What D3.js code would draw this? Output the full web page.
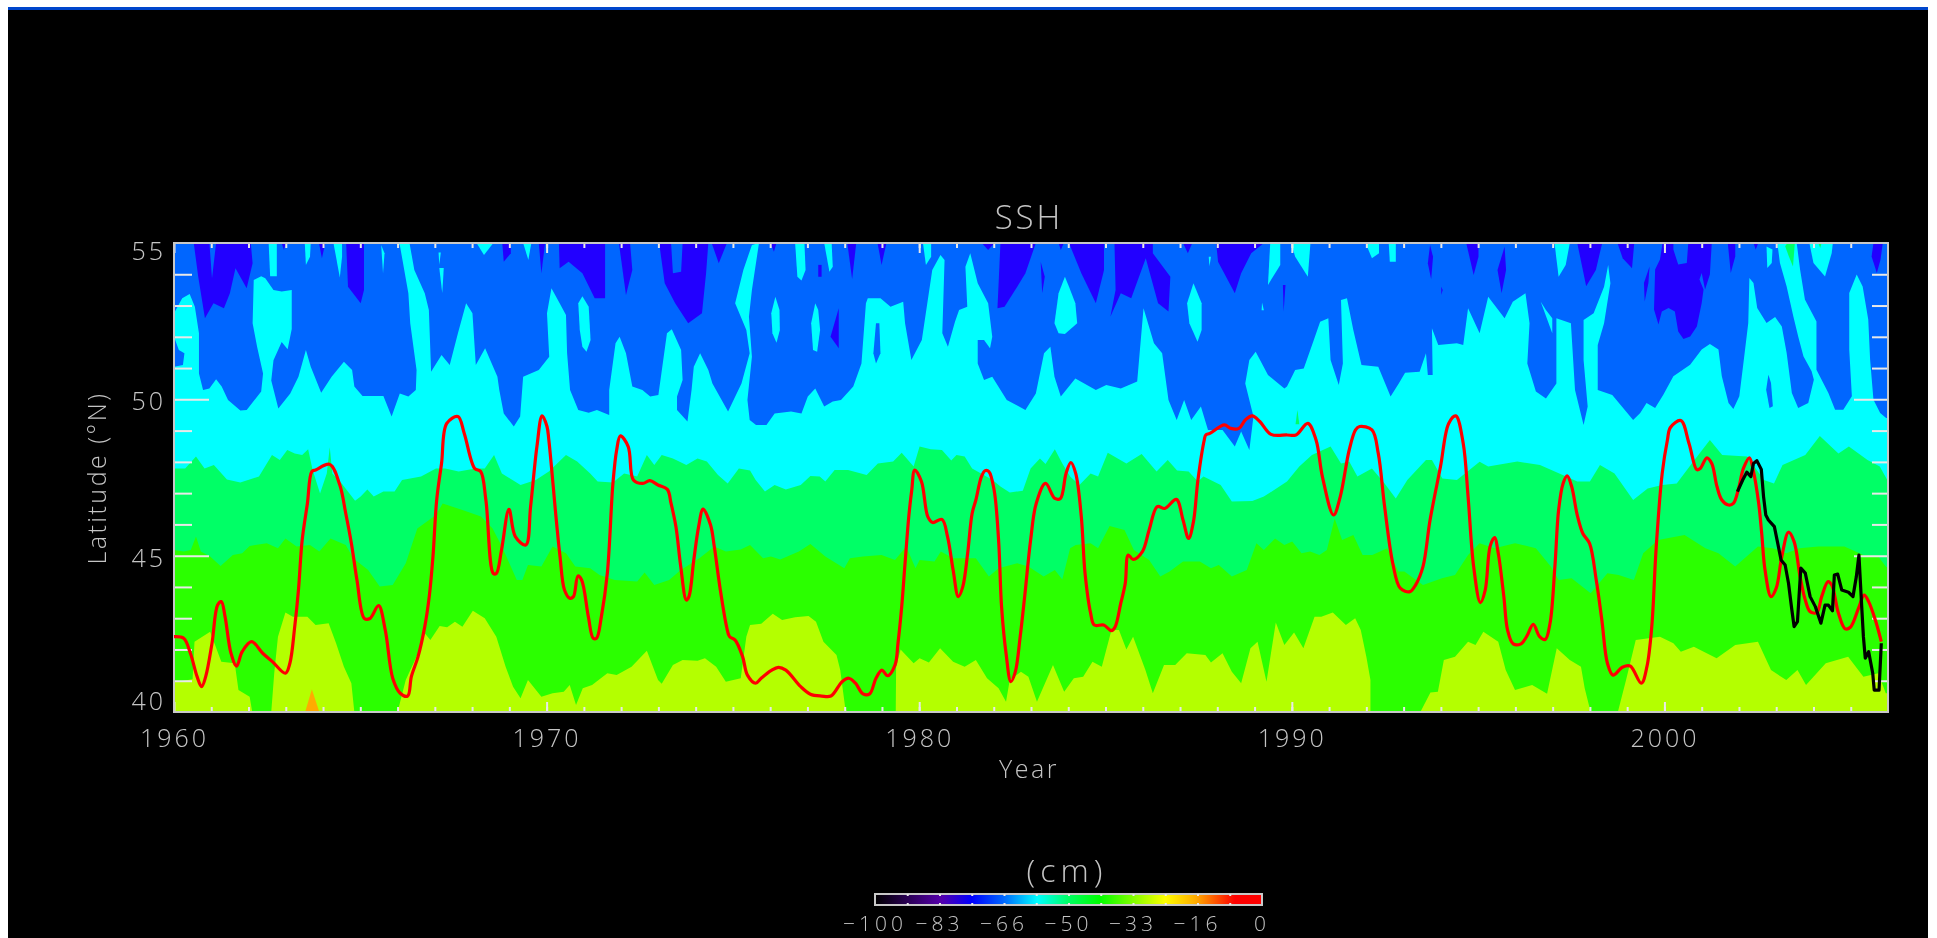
<!DOCTYPE html>
<html>

<head>
    <meta charset="utf-8">
    <style>
        html, body {
            margin: 0;
            background: white;
            overflow: hidden;
        }

        svg {
            display: block;
            filter: blur(0.55px);
        }

        text {
            font-family: 'Open Sans', 'DejaVu Sans', sans-serif;
            font-weight: 300;
            fill: #c4c4c4;
        }

        .tick line {
            stroke: #e8e8e8;
            stroke-width: 2px;
        }

        .domain {
            display: none;
        }

        .axis text {
            font-size: 25px;
            letter-spacing: 3px;
        }
    </style>
</head>

<body>
    <svg width="1937" height="938"></svg>

    <script src="https://d3js.org/d3.v7.min.js"></script>
    <script>

        // tick labels
        let yearLabels = [1960, 1970, 1980, 1990, 2000]
        let latLabels = [40, 45, 50, 55]
        let yearTicks = d3.range(1961, 2006)
        let latTicks = d3.range(41, 55)
        let barLabels = ["\u2212100", "\u221283", "\u221266", "\u221250", "\u221233", "\u221216", "0"]
        let barLabelValues = [-100, -83.33, -66.67, -50, -33.33, -16.67, 0]

        // colorbar ramp, cm -> colour
        let barValues = [-100, -83, -75, -67, -58, -50, -42, -25, -17, -7, 0]
        let barColors = ["#000000", "#5500aa", "#0000ff", "#0064ff", "#00ffff", "#00ff64", "#00ff00", "#ffff00", "#ffaa00", "#ff0000", "#ff0000"]

        // contour band edges, [year, latitude]
        let yellowEdge = [[1960, 40.95], [1960.5, 41.05], [1960.55, 42.25], [1960.97, 42.57], [1961.12, 42.09], [1961.27, 41.61], [1961.63, 41.56], [1961.73, 40.7], [1962.03, 40.49], [1962.1, 40], [1962.61, 40], [1962.69, 41.24], [1962.79, 42.41], [1962.99, 43.18], [1963.19, 43.05], [1963.58, 43.05], [1963.8, 42.78], [1964.15, 42.84], [1964.35, 42.2], [1964.56, 41.45], [1964.76, 40.92], [1964.84, 40], [1966, 40], [1966.22, 41.02], [1966.63, 42.09], [1966.73, 42.52], [1966.88, 42.3], [1967.13, 42.75], [1967.33, 42.71], [1967.54, 42.89], [1967.74, 42.73], [1968.02, 43.24], [1968.34, 43], [1968.65, 42.41], [1968.9, 41.45], [1969.1, 40.81], [1969.3, 40.44], [1969.5, 41.02], [1969.86, 40.49], [1970.16, 40.6], [1970.46, 40.65], [1970.62, 40.86], [1970.79, 40.22], [1970.97, 40.76], [1971.22, 40.86], [1971.63, 41.24], [1971.88, 41.18], [1972.28, 41.45], [1972.69, 41.96], [1972.99, 41.02], [1973.09, 40.9], [1973.39, 41.5], [1973.65, 41.66], [1974.05, 41.64], [1974.25, 41.72], [1974.55, 41.45], [1974.81, 40.97], [1975.21, 41.08], [1975.36, 42.41], [1975.46, 42.78], [1975.76, 42.82], [1976.07, 43.14], [1976.32, 42.94], [1976.67, 43.03], [1977.03, 43.07], [1977.23, 42.89], [1977.43, 42.25], [1977.78, 41.82], [1977.88, 41.34], [1978.01, 40.17], [1978.06, 40], [1979.37, 40], [1979.38, 41.45], [1979.5, 42], [1979.85, 41.56], [1980.01, 41.72], [1980.26, 41.58], [1980.56, 42.04], [1980.91, 41.61], [1981.22, 41.45], [1981.52, 41.66], [1981.82, 41.08], [1982.13, 40.76], [1982.33, 40.33], [1982.43, 41.02], [1982.73, 41.29], [1982.93, 41.13], [1983.16, 40.33], [1983.59, 41.5], [1983.89, 40.65], [1984.15, 41.08], [1984.4, 41.13], [1984.65, 41.61], [1984.9, 41.45], [1985.16, 42.62], [1985.36, 42.62], [1985.56, 42], [1985.74, 42.41], [1986.07, 41.34], [1986.27, 40.6], [1986.57, 41.5], [1986.87, 41.5], [1987.18, 41.88], [1987.68, 41.82], [1987.83, 41.58], [1988.14, 41.88], [1988.39, 41.29], [1988.64, 40.92], [1988.89, 42.04], [1989.08, 42.25], [1989.32, 40.97], [1989.57, 42.86], [1989.8, 42.14], [1990.06, 42.54], [1990.31, 42.04], [1990.61, 43.05], [1990.79, 43.05], [1991.1, 43.18], [1991.45, 42.78], [1991.7, 43], [1991.85, 42.62], [1992, 41.77], [1992.11, 41.02], [1992.11, 40], [1993.45, 40], [1993.72, 40.62], [1993.92, 40.65], [1994.08, 41.66], [1994.38, 41.77], [1994.73, 42.25], [1994.93, 42.14], [1995.14, 42.57], [1995.54, 42.25], [1995.74, 41.34], [1995.99, 40.7], [1996.45, 40.86], [1996.85, 40.58], [1997.11, 42.04], [1997.46, 41.66], [1997.76, 41.45], [1997.86, 40.76], [1998.02, 40], [1998.75, 40], [1998.97, 41.02], [1999.23, 42.3], [1999.88, 42.41], [2000.24, 42.2], [2000.44, 41.93], [2000.79, 42.09], [2001.4, 41.72], [2001.9, 42.14], [2002.51, 42.25], [2002.86, 41.34], [2003.27, 41.02], [2003.57, 41.34], [2003.8, 40.86], [2004.33, 41.56], [2004.93, 41.77], [2005.34, 41.13], [2005.74, 41.24], [2005.94, 40.6], [2006, 40.6]]

        let greenEdge = [[1960, 45.18], [1960.26, 45.13], [1960.45, 45.18], [1960.59, 45.61], [1960.72, 45.13], [1960.97, 44.97], [1961.25, 44.67], [1961.58, 45.02], [1961.83, 45.08], [1962.03, 45.31], [1962.49, 45.4], [1962.79, 45.24], [1962.99, 45.55], [1963.29, 45.29], [1963.65, 45.34], [1963.9, 45.13], [1964.2, 45.55], [1964.61, 45.34], [1964.81, 44.92], [1965.21, 44.54], [1965.52, 44.01], [1965.87, 44.06], [1966.22, 44.76], [1966.53, 45.87], [1967.03, 46.3], [1967.21, 46.67], [1967.74, 46.46], [1968.24, 46.25], [1968.55, 45.87], [1968.8, 45.29], [1969, 44.76], [1969.2, 44.22], [1969.35, 44.22], [1969.5, 44.7], [1969.86, 44.65], [1970.16, 45.29], [1970.52, 45.08], [1970.77, 44.65], [1971.17, 44.6], [1971.42, 44.38], [1971.83, 44.22], [1972.43, 44.17], [1972.63, 44.46], [1972.89, 44.06], [1973.29, 44.22], [1973.6, 44.54], [1974.1, 44.92], [1974.5, 45.29], [1974.81, 45.13], [1975.21, 45.2], [1975.46, 45.34], [1975.81, 44.92], [1976.02, 44.97], [1976.27, 44.88], [1976.77, 45.13], [1977.08, 45.37], [1977.48, 44.97], [1977.99, 44.6], [1978.14, 44.92], [1978.49, 44.97], [1978.99, 45.02], [1979.35, 44.86], [1979.65, 45.29], [1979.9, 44.6], [1980.01, 44.86], [1980.41, 44.81], [1980.58, 45.13], [1980.91, 44.92], [1981.52, 44.92], [1981.87, 44.33], [1982.13, 44.6], [1982.63, 44.76], [1982.93, 44.65], [1983.34, 44.33], [1983.64, 44.54], [1983.84, 44.24], [1984.05, 45.24], [1984.2, 45.34], [1984.6, 45.4], [1984.8, 45.24], [1985.11, 45.95], [1985.51, 45.82], [1985.76, 45.18], [1986.17, 44.86], [1986.47, 44.33], [1986.72, 44.49], [1987.08, 44.81], [1987.53, 44.81], [1987.83, 44.6], [1988.04, 44.7], [1988.39, 44.33], [1988.79, 44.54], [1989.05, 45.4], [1989.25, 45.18], [1989.55, 45.55], [1989.8, 45.34], [1990.01, 45.45], [1990.26, 45.08], [1990.49, 45.13], [1990.74, 45.02], [1990.94, 45.18], [1991.15, 46.19], [1991.35, 45.5], [1991.65, 45.66], [1991.9, 45.02], [1992.16, 45.02], [1992.56, 45.24], [1992.86, 44.49], [1993.02, 44.49], [1993.52, 44.06], [1994.03, 44.28], [1994.38, 44.38], [1994.73, 45.02], [1995.04, 45.4], [1995.44, 45.24], [1995.99, 45.4], [1996.55, 45.24], [1996.95, 44.65], [1997.16, 44.22], [1997.51, 44.28], [1998.02, 43.8], [1998.47, 44.44], [1998.77, 44.38], [1999.18, 44.22], [1999.43, 45.08], [1999.83, 45.5], [2000.54, 45.66], [2001.1, 45.24], [2001.45, 45.08], [2001.9, 44.65], [2002.51, 45.29], [2002.91, 45.24], [2003.27, 45.08], [2003.62, 45.24], [2004.13, 45.29], [2004.83, 45.29], [2005.34, 45.02], [2005.74, 44.97], [2005.94, 44.65], [2006, 44.6]]

        let springEdge = [[1960, 47.79], [1960.3, 47.79], [1960.59, 48.17], [1960.82, 47.79], [1961.07, 47.9], [1961.42, 47.44], [1961.78, 47.34], [1962.28, 47.53], [1962.63, 48.22], [1962.84, 48.06], [1963.04, 48.38], [1963.24, 48.27], [1963.44, 48.22], [1963.6, 48.4], [1963.72, 47.74], [1963.92, 46.99], [1964.1, 47.63], [1964.18, 48.47], [1964.25, 47.63], [1964.5, 47.31], [1964.86, 46.76], [1965.01, 46.89], [1965.19, 47.12], [1965.36, 46.89], [1965.62, 47.05], [1965.92, 47.05], [1966.12, 47.42], [1966.63, 47.53], [1967.03, 47.79], [1967.28, 47.79], [1967.64, 47.69], [1968.09, 47.79], [1968.34, 47.79], [1968.59, 48.22], [1968.8, 47.63], [1969.3, 47.26], [1969.71, 47.42], [1970.06, 47.69], [1970.52, 48.22], [1970.82, 48.01], [1971.17, 47.63], [1971.37, 47.37], [1971.78, 47.34], [1972.08, 47.63], [1972.43, 47.53], [1972.69, 48.22], [1972.89, 47.9], [1973.09, 48.22], [1973.39, 48.11], [1973.75, 47.9], [1974.05, 48.11], [1974.3, 48.01], [1974.6, 47.58], [1974.86, 47.31], [1975.16, 47.79], [1975.46, 47.72], [1975.61, 47.42], [1975.86, 47.05], [1976.12, 47.26], [1976.42, 47.12], [1976.82, 47.26], [1977.08, 47.55], [1977.33, 47.53], [1977.48, 47.37], [1977.73, 47.74], [1978.09, 47.74], [1978.59, 47.58], [1978.89, 47.95], [1979.3, 48.01], [1979.53, 48.29], [1979.85, 47.85], [1980.01, 48.49], [1980.31, 48.4], [1980.61, 48.38], [1980.86, 48.04], [1981, 48.22], [1981.22, 48.17], [1981.42, 47.79], [1981.97, 47.42], [1982.18, 47.21], [1982.43, 47.02], [1982.78, 47.08], [1982.99, 47.79], [1983.24, 48.11], [1983.39, 47.93], [1983.64, 48.4], [1983.84, 47.95], [1984.05, 47.53], [1984.3, 47.26], [1984.6, 47.63], [1984.8, 47.53], [1985.06, 48.29], [1985.56, 47.95], [1985.97, 48.25], [1986.37, 47.69], [1986.67, 48.06], [1986.92, 47.72], [1987.23, 47.69], [1987.48, 47.37], [1987.63, 47.53], [1988.09, 47.26], [1988.39, 46.73], [1988.94, 46.75], [1989.25, 46.89], [1989.87, 47.37], [1990.2, 47.85], [1990.54, 48.22], [1991.04, 48.49], [1991.32, 47.95], [1991.54, 48.01], [1991.76, 47.53], [1992.15, 47.79], [1992.49, 47.31], [1992.79, 46.83], [1993.1, 47.42], [1993.6, 48.06], [1993.76, 48.06], [1994.04, 47.47], [1994.43, 47.42], [1995.04, 48], [1995.27, 47.85], [1996.05, 48.01], [1996.66, 47.9], [1997.27, 47.58], [1997.66, 47.37], [1998, 47.37], [1998.27, 47.9], [1998.66, 47.63], [1999.16, 46.78], [1999.55, 47.15], [1999.94, 47.26], [2000.33, 47.31], [2000.77, 48], [2001.22, 48.7], [2001.55, 48.22], [2002.22, 48.17], [2002.67, 47.42], [2002.94, 47.31], [2003.17, 47.9], [2003.78, 48.22], [2004.17, 48.83], [2004.67, 48.27], [2004.95, 48.49], [2005.45, 48.06], [2005.78, 47.85], [2005.98, 47.42], [2006, 47.3]]

        let blueEdge = [[1960, 52.75], [1960.22, 53.23], [1960.42, 53.37], [1960.56, 52.96], [1960.67, 52.11], [1960.67, 50.83], [1960.78, 50.3], [1960.95, 50.35], [1961.13, 50.64], [1961.28, 50.41], [1961.45, 49.98], [1961.78, 49.64], [1961.95, 49.66], [1962.34, 50.25], [1962.39, 50.83], [1962.23, 51.68], [1962.11, 52.43], [1962.14, 53.82], [1962.34, 53.94], [1962.45, 53.87], [1962.67, 53.5], [1962.89, 53.45], [1963.16, 53.5], [1963.16, 52.25], [1963.05, 51.6], [1962.89, 51.83], [1962.67, 51.25], [1962.61, 50.6], [1962.8, 49.71], [1963.12, 50.19], [1963.34, 50.72], [1963.54, 51.58], [1963.67, 51.04], [1963.95, 50.21], [1964.23, 50.72], [1964.56, 51.2], [1964.78, 50.94], [1964.84, 50.41], [1965.06, 50.11], [1965.62, 50.11], [1965.84, 49.45], [1966.06, 50.19], [1966.29, 50.09], [1966.49, 50.3], [1966.51, 50.94], [1966.34, 52.43], [1966.29, 53.39], [1966.06, 54.94], [1966, 55], [1966.32, 55], [1966.45, 54.14], [1966.73, 53.39], [1966.84, 52.86], [1966.9, 50.88], [1967.18, 51.42], [1967.4, 51.1], [1967.62, 52.11], [1967.84, 53.07], [1968.01, 52.75], [1968.1, 51.1], [1968.35, 51.63], [1968.68, 50.72], [1968.73, 50.3], [1968.85, 49.55], [1969.12, 49.13], [1969.29, 49.45], [1969.37, 50.72], [1969.79, 50.94], [1970.07, 51.36], [1970.01, 52.75], [1970.13, 53.55], [1970.35, 53.07], [1970.52, 52.7], [1970.55, 51.47], [1970.63, 50.3], [1970.85, 49.66], [1971.13, 49.57], [1971.35, 49.66], [1971.68, 49.5], [1971.68, 50.3], [1971.85, 51.79], [1971.96, 52], [1972.13, 51.47], [1972.3, 50.41], [1972.57, 50.3], [1972.78, 50.09], [1973, 50.14], [1973.23, 52.11], [1973.36, 52.24], [1973.61, 51.58], [1973.65, 50.62], [1973.5, 50.09], [1973.5, 49.66], [1973.78, 49.29], [1973.89, 50.3], [1973.95, 51.04], [1974.12, 51.47], [1974.34, 50.94], [1974.45, 50.51], [1974.87, 49.61], [1975.23, 50.51], [1975.45, 51.47], [1975.36, 52.22], [1975.06, 53.07], [1975.28, 54.14], [1975.51, 54.94], [1975.7, 55], [1975.51, 53.5], [1975.43, 52.64], [1975.51, 51.36], [1975.39, 49.98], [1975.45, 49.34], [1975.62, 49.18], [1975.9, 49.18], [1976.12, 49.55], [1976.56, 49.61], [1976.84, 49.55], [1977.01, 50.09], [1977.21, 50.35], [1977.45, 49.77], [1977.68, 49.93], [1977.9, 49.98], [1978.23, 50.41], [1978.45, 51.15], [1978.57, 53.07], [1978.62, 53.23], [1978.96, 53.23], [1979.23, 52.96], [1979.57, 53.12], [1979.62, 52.43], [1979.79, 51.26], [1980.07, 51.9], [1980.35, 54.14], [1980.57, 54.62], [1980.68, 54.46], [1980.62, 52.11], [1980.77, 51.68], [1980.96, 52.48], [1981.07, 52.86], [1981.29, 52.96], [1981.24, 54.24], [1981.37, 54.67], [1981.57, 53.71], [1981.85, 53.07], [1981.96, 52], [1981.9, 51.63], [1981.74, 51.9], [1981.57, 51.9], [1981.57, 51.15], [1981.74, 50.62], [1981.96, 50.72], [1982.35, 49.98], [1982.85, 49.66], [1983.13, 50.19], [1983.35, 51.47], [1983.52, 51.68], [1983.63, 50.72], [1983.8, 50.09], [1984.19, 50.67], [1984.74, 50.3], [1985.02, 50.46], [1985.41, 50.35], [1985.85, 50.57], [1986.02, 52.91], [1986.3, 51.79], [1986.52, 51.47], [1986.69, 49.98], [1986.91, 49.34], [1987.11, 49.98], [1987.3, 49.34], [1987.56, 49.77], [1987.75, 49.02], [1988.14, 49.02], [1988.47, 48.49], [1988.64, 48.97], [1988.86, 48.38], [1988.97, 49.45], [1988.75, 50.51], [1988.86, 51.26], [1989.03, 51.52], [1989.36, 50.78], [1989.8, 50.35], [1989.87, 50.41], [1990.09, 50.94], [1990.32, 50.99], [1990.59, 51.9], [1990.76, 52.48], [1990.98, 52.59], [1991.04, 51.26], [1991.26, 50.46], [1991.37, 51.15], [1991.32, 53.18], [1991.48, 53.23], [1991.65, 52.22], [1991.87, 51.1], [1992.32, 51.04], [1992.65, 50.09], [1992.87, 50.51], [1993.04, 50.85], [1993.43, 50.88], [1993.6, 51.47], [1993.65, 50.78], [1993.78, 50.78], [1993.76, 52.27], [1993.93, 51.74], [1994.43, 51.79], [1994.6, 51.74], [1994.73, 52.91], [1995.04, 52.11], [1995.27, 53.28], [1995.71, 52.59], [1995.93, 53.12], [1996.27, 53.39], [1996.38, 52.43], [1996.32, 51.15], [1996.55, 50.25], [1996.82, 50.03], [1997.1, 50.51], [1997.1, 52.59], [1997.49, 52.43], [1997.6, 50.3], [1997.83, 49.18], [1997.94, 49.77], [1997.83, 51.26], [1997.83, 52.54], [1998.1, 52.75], [1998.38, 53.6], [1998.49, 54.3], [1998.55, 53.71], [1998.38, 52.43], [1998.21, 51.74], [1998.21, 50.3], [1998.6, 50.14], [1999.16, 49.34], [1999.35, 49.56], [1999.52, 49.88], [1999.75, 49.72], [1999.97, 50.15], [2000.24, 50.74], [2000.69, 51.11], [2001, 51.59], [2001.22, 51.77], [2001.45, 51.59], [2001.54, 50.74], [2001.72, 49.88], [2001.85, 49.69], [2002.01, 50.1], [2002.12, 51.16], [2002.25, 52.44], [2002.28, 53.88], [2002.39, 53.72], [2002.49, 52.92], [2002.74, 52.44], [2002.97, 52.63], [2003.15, 52.33], [2003.28, 51.48], [2003.42, 50.2], [2003.59, 49.72], [2003.86, 49.88], [2004.01, 50.63], [2003.95, 50.9], [2003.73, 51.38], [2003.59, 52.01], [2003.46, 52.65], [2003.28, 53.61], [2003.1, 54.36], [2003.03, 55], [2003.55, 55], [2003.64, 54.15], [2003.77, 53.19], [2004.08, 52.49], [2004.08, 50.95], [2004.4, 50.2], [2004.58, 49.67], [2004.8, 49.67], [2005.03, 50.1], [2004.96, 51.59], [2004.96, 53.4], [2005.16, 53.99], [2005.32, 53.61], [2005.47, 52.55], [2005.52, 51.27], [2005.61, 49.99], [2005.79, 49.56], [2005.95, 49.4], [2006, 49.4]]

        // patches on top of the bands
        let cyanPatches = [
            [[1962.54, 55], [1962.58, 53.94], [1962.76, 53.94], [1962.76, 55]],
            [[1963.51, 55], [1963.54, 54.3], [1963.65, 54.56], [1963.67, 55]],
            [[1964.28, 55], [1964.45, 53.9], [1964.51, 54.56], [1964.51, 55]],
            [[1965.56, 54.94], [1965.61, 54.03], [1965.65, 54.67]],
            [[1967.12, 54.2], [1967.2, 53.39], [1967.24, 54.2]],
            [[1967.1, 54.7], [1967.12, 54.3], [1967.16, 54.7]],
            [[1968.12, 55], [1968.32, 54.62], [1968.57, 55]],
            [[1969.37, 55], [1969.51, 54.46], [1969.59, 55]],
            [[1970.85, 53.07], [1970.96, 53.3], [1971.13, 52.96], [1971.18, 51.9], [1971.07, 51.52], [1970.96, 51.68], [1970.89, 52.22]],
            [[1976.67, 55], [1976.73, 53.92], [1976.84, 53.8], [1976.95, 54.14], [1976.92, 55]],
            [[1977.45, 55], [1977.59, 54.08], [1977.68, 54.24], [1977.65, 55]],
            [[1980.1, 55], [1980.18, 54.3], [1980.32, 54.56], [1980.32, 55]],
            [[1976.14, 53.28], [1976.03, 52.75], [1976.06, 52.11], [1976.17, 51.81], [1976.26, 52.22], [1976.25, 52.86]],
            [[1977.21, 53.07], [1977.1, 52.43], [1977.15, 51.58], [1977.26, 51.52], [1977.34, 52.22], [1977.29, 52.86]],
            [[1983.91, 53.92], [1983.74, 53.39], [1983.63, 52.43], [1983.74, 52.11], [1983.91, 52.09], [1984.24, 52.43], [1984.19, 53.07], [1984.02, 53.6]],
            [[1987.36, 53.71], [1987.19, 53.07], [1987.25, 52.43], [1987.47, 51.84], [1987.58, 52.22], [1987.58, 53.07]],
            [[1987.77, 54.56], [1987.79, 54.26], [1987.83, 54.56]],
            [[1989.2, 53.1], [1989.19, 52.85], [1989.25, 52.85]],
            [[1989.42, 55], [1989.36, 53.66], [1989.69, 54.3], [1989.69, 55]],
            [[1989.98, 55], [1990.09, 54.56], [1990.43, 53.92], [1990.5, 55]],
            [[1991.98, 55], [1992.15, 54.51], [1992.34, 54.67], [1992.34, 55]],
            [[1992.6, 55], [1992.63, 54.4], [1992.79, 54.4], [1992.79, 55]],
            [[1997.05, 55], [1997.16, 53.92], [1997.35, 54.3], [1997.46, 55]],
            [[1996.68, 53.12], [1996.99, 52.11], [1996.99, 52.59], [1996.82, 52.86]],
            [[2002.74, 54.89], [2002.76, 54.2], [2002.88, 54.36], [2002.9, 54.79]],
            [[2003.89, 55], [2004, 54.36], [2004.31, 53.93], [2004.49, 54.68], [2004.52, 55]]
        ]

        let bluePatches = [
            [[1960, 52], [1960.13, 51.58], [1960.28, 51.47], [1960.24, 51.1], [1960, 51.04]],
            [[1978.84, 52.43], [1978.77, 51.47], [1978.84, 51.15], [1978.96, 51.47], [1978.93, 52.43]],
            [[2002.79, 50.79], [2002.73, 50.31], [2002.82, 49.72], [2002.91, 49.78], [2002.86, 50.52]]
        ]

        let indigoPatches = [
            [[1960.53, 55], [1960.65, 53.92], [1960.83, 52.59], [1961.06, 53.07], [1961.34, 52.91], [1961.5, 53.39], [1961.65, 54.19], [1961.95, 53.55], [1962.11, 54.35], [1962.06, 55], [1961.13, 55], [1961.02, 53.87], [1960.95, 55]],
            [[1962.89, 55], [1962.95, 54.78], [1963, 55]],
            [[1963.89, 55], [1963.97, 54.51], [1964.06, 55]],
            [[1964.62, 55], [1964.67, 53.6], [1965.01, 53.07], [1965.1, 53.5], [1965.1, 55]],
            [[1968.81, 55], [1968.85, 54.4], [1969.04, 54.67], [1969.04, 55]],
            [[1969.79, 55], [1969.86, 54.03], [1969.96, 55]],
            [[1970.33, 55], [1970.35, 54.19], [1970.59, 54.4], [1970.96, 54.03], [1971.29, 53.23], [1971.57, 53.23], [1971.57, 55]],
            [[1971.94, 55], [1972.13, 53.34], [1972.3, 54.14], [1972.24, 55]],
            [[1973.02, 55], [1973.17, 53.71], [1973.45, 53.07], [1973.8, 52.43], [1974.17, 52.75], [1974.28, 54.03], [1974.34, 55], [1973.65, 55], [1973.61, 54.08], [1973.39, 54.03], [1973.34, 55]],
            [[1974.43, 55], [1974.62, 54.35], [1974.84, 55]],
            [[1976.01, 55], [1976.1, 54.72], [1976.17, 55]],
            [[1978.07, 55], [1978.2, 53.84], [1978.31, 55]],
            [[1978.88, 55], [1978.99, 54.3], [1979.12, 55]],
            [[1977.29, 54.3], [1977.29, 53.92], [1977.38, 53.92], [1977.38, 54.3]],
            [[1977.84, 52.91], [1977.62, 52], [1977.84, 51.63]],
            [[1981.68, 55], [1981.85, 54.78], [1982.02, 55]],
            [[1982.18, 55], [1982.1, 52.91], [1982.29, 52.96], [1982.63, 53.6], [1982.85, 54.03], [1983.13, 55]],
            [[1983.26, 54.4], [1983.3, 53.39], [1983.37, 53.92]],
            [[1983.74, 55], [1983.8, 54.78], [1983.88, 55]],
            [[1984.02, 55], [1984.35, 54.03], [1984.74, 53.07], [1984.96, 54.14], [1984.96, 55]],
            [[1985.24, 55], [1985.27, 53.5], [1985.13, 52.64], [1985.41, 53.39], [1985.69, 53.23], [1986.08, 54.51], [1986.41, 53.07], [1986.69, 52.81], [1986.74, 53.92], [1986.27, 54.67], [1986.27, 55]],
            [[1987.08, 55], [1987.21, 54.67], [1987.33, 55]],
            [[1987.97, 55], [1988.02, 54.4], [1988.47, 53.39], [1988.64, 54.03], [1988.91, 54.67], [1989.25, 55]],
            [[1989.76, 53.66], [1989.78, 52.8], [1989.83, 53.66]],
            [[1993.71, 54.94], [1993.65, 54.35], [1993.74, 53.84], [1993.79, 54.56]],
            [[1994.01, 53.6], [1994.01, 53.34], [1994.05, 53.5]],
            [[1994.68, 55], [1994.88, 53.98], [1995.01, 54.56], [1995.01, 55]],
            [[1995.71, 54.88], [1995.52, 54.14], [1995.63, 53.39], [1995.75, 54.14]],
            [[1997.66, 55], [1997.9, 53.62], [1998.16, 54.14], [1998.33, 55]],
            [[1998.74, 55], [1998.88, 54.51], [1999.13, 54.19], [1999.19, 55]],
            [[1999.95, 55], [1999.88, 54.47], [1999.75, 54.15], [1999.72, 52.87], [1999.84, 52.39], [1999.93, 52.81], [2000.11, 52.92], [2000.28, 52.81], [2000.37, 52.17], [2000.51, 51.93], [2000.69, 52.01], [2000.87, 52.33], [2001, 53.08], [2001.05, 53.51], [2000.94, 53.83], [2001, 54.04], [2001.09, 53.51], [2001.22, 53.99], [2001.27, 55], [2000.64, 55], [2000.6, 54.36], [2000.37, 54.31], [2000.24, 54.79], [2000.24, 55]],
            [[1999.6, 54.25], [1999.45, 53.72], [1999.47, 53.13], [1999.57, 53.72]],
            [[2001.7, 55], [2001.78, 54.04], [2001.9, 54.57], [2001.9, 55]],
            [[2002.39, 55], [2002.45, 54.79], [2002.52, 55]],
            [[2005.56, 54.57], [2005.7, 54.04], [2005.8, 54.47], [2005.86, 55], [2005.61, 55]]
        ]

        let springPatches = [
            [[2003.24, 54.9], [2003.33, 54.6], [2003.45, 54.25], [2003.5, 55], [2003.3, 55]],
            [[2004.13, 55], [2004.18, 54.84], [2004.22, 55]],
            [[1990.15, 49.66], [1990.2, 49.2], [1990.1, 49.2]]
        ]

        let orangePatch = [[1963.52, 40], [1963.7, 40.73], [1963.9, 40]]

        // red model line, [year, latitude]
        let redLine = [[1960, 42.41], [1960.26, 42.36], [1960.44, 41.88], [1960.62, 41.13], [1960.74, 40.81], [1960.85, 41.13], [1961.02, 42.2], [1961.17, 43.42], [1961.27, 43.53], [1961.37, 43.05], [1961.53, 41.88], [1961.68, 41.47], [1961.83, 41.93], [1962.08, 42.25], [1962.38, 41.88], [1962.64, 41.61], [1962.99, 41.24], [1963.11, 41.56], [1963.24, 42.73], [1963.34, 43.9], [1963.44, 45.5], [1963.58, 46.67], [1963.7, 47.69], [1963.8, 47.74], [1964.18, 47.92], [1964.45, 47.26], [1964.61, 46.35], [1964.76, 45.4], [1964.91, 44.22], [1965.11, 42.99], [1965.26, 42.99], [1965.49, 43.4], [1965.67, 42.62], [1965.87, 41.08], [1966.07, 40.6], [1966.27, 40.51], [1966.37, 41.13], [1966.55, 41.77], [1966.73, 42.73], [1966.85, 43.69], [1966.95, 44.97], [1967.05, 46.78], [1967.18, 47.95], [1967.32, 49.23], [1967.62, 49.45], [1967.79, 48.91], [1968.07, 47.79], [1968.23, 47.69], [1968.37, 46.78], [1968.57, 44.43], [1968.65, 44.43], [1968.79, 45.18], [1968.99, 46.48], [1969.16, 45.61], [1969.44, 45.34], [1969.57, 46.57], [1969.74, 48.49], [1969.88, 49.47], [1970.01, 49.13], [1970.06, 48.7], [1970.26, 46.14], [1970.36, 44.97], [1970.48, 43.9], [1970.62, 43.64], [1970.72, 43.69], [1970.84, 44.35], [1970.94, 44.22], [1971.12, 43.05], [1971.25, 42.36], [1971.34, 42.36], [1971.47, 43.05], [1971.63, 44.44], [1971.78, 47.31], [1971.88, 48.38], [1971.98, 48.83], [1972.19, 48.49], [1972.33, 47.42], [1972.58, 47.31], [1972.77, 47.4], [1972.99, 47.26], [1973.24, 47.12], [1973.34, 46.67], [1973.47, 45.93], [1973.6, 44.65], [1973.75, 43.58], [1973.82, 43.69], [1973.95, 44.86], [1974.08, 45.93], [1974.2, 46.49], [1974.4, 45.98], [1974.5, 45.29], [1974.65, 44], [1974.83, 42.73], [1974.91, 42.41], [1975.06, 42.3], [1975.26, 41.77], [1975.39, 41.18], [1975.61, 40.92], [1975.76, 41.08], [1976.02, 41.32], [1976.22, 41.43], [1976.42, 41.34], [1976.82, 40.81], [1977.08, 40.57], [1977.38, 40.51], [1977.63, 40.51], [1977.93, 40.97], [1978.11, 41.08], [1978.29, 40.92], [1978.49, 40.58], [1978.67, 40.58], [1978.84, 41.08], [1979, 41.34], [1979.15, 41.16], [1979.35, 41.5], [1979.43, 42.2], [1979.53, 43.37], [1979.62, 44.76], [1979.72, 46.25], [1979.8, 47.1], [1979.88, 47.74], [1980.06, 47.37], [1980.23, 46.25], [1980.36, 46.06], [1980.61, 46.16], [1980.76, 45.61], [1980.91, 44.54], [1981.05, 43.69], [1981.17, 44.01], [1981.3, 45.08], [1981.42, 46.35], [1981.52, 46.78], [1981.67, 47.53], [1981.77, 47.72], [1981.87, 47.69], [1982.01, 47.1], [1982.13, 45.5], [1982.21, 43.37], [1982.33, 41.88], [1982.46, 40.97], [1982.58, 41.29], [1982.71, 42.41], [1982.83, 43.69], [1982.99, 45.5], [1983.14, 46.67], [1983.39, 47.31], [1983.64, 46.83], [1983.79, 46.83], [1983.94, 47.63], [1984.07, 47.98], [1984.2, 47.63], [1984.35, 46.25], [1984.45, 44.44], [1984.6, 43.16], [1984.7, 42.78], [1984.95, 42.78], [1985.16, 42.6], [1985.26, 42.73], [1985.41, 43.48], [1985.53, 44.12], [1985.61, 45.02], [1985.74, 44.88], [1985.99, 45.13], [1986.17, 45.82], [1986.39, 46.57], [1986.59, 46.51], [1986.9, 46.8], [1987.08, 46.14], [1987.23, 45.55], [1987.36, 46.09], [1987.48, 47.42], [1987.65, 48.7], [1987.69, 48.86], [1987.8, 48.91], [1988.19, 49.18], [1988.36, 49.07], [1988.58, 49.07], [1988.75, 49.34], [1988.94, 49.47], [1989.14, 49.29], [1989.44, 48.88], [1989.87, 48.86], [1990.11, 48.86], [1990.43, 49.23], [1990.65, 48.7], [1990.82, 47.53], [1991.12, 46.3], [1991.3, 46.89], [1991.54, 48.38], [1991.71, 49.02], [1991.82, 49.13], [1992.15, 49.02], [1992.32, 48.27], [1992.49, 46.57], [1992.71, 44.75], [1992.91, 43.96], [1993.17, 43.85], [1993.32, 44.06], [1993.52, 44.65], [1993.71, 46.14], [1993.99, 47.85], [1994.21, 49.23], [1994.4, 49.47], [1994.6, 48.59], [1994.73, 46.89], [1994.88, 44.65], [1995.06, 43.5], [1995.19, 43.9], [1995.32, 45.29], [1995.44, 45.58], [1995.54, 45.08], [1995.69, 43.69], [1995.79, 42.62], [1995.94, 42.18], [1996.15, 42.18], [1996.3, 42.41], [1996.48, 42.8], [1996.65, 42.41], [1996.8, 42.32], [1996.93, 42.84], [1997.06, 44.65], [1997.16, 46.46], [1997.28, 47.31], [1997.39, 47.55], [1997.51, 47.21], [1997.66, 46.3], [1997.81, 45.71], [1997.99, 45.39], [1998.17, 44.22], [1998.32, 42.94], [1998.47, 41.56], [1998.62, 41.18], [1998.87, 41.43], [1999.08, 41.47], [1999.38, 40.92], [1999.53, 41.45], [1999.66, 42.73], [1999.78, 45.29], [1999.94, 47.63], [2000.08, 48.7], [2000.16, 49.1], [2000.44, 49.32], [2000.66, 48.59], [2000.87, 47.75], [2000.96, 47.79], [2001.14, 48.13], [2001.27, 47.95], [2001.41, 47.21], [2001.54, 46.78], [2001.72, 46.62], [2001.85, 46.67], [2001.99, 47.15], [2002.12, 47.79], [2002.28, 48.13], [2002.39, 47.69], [2002.53, 46.67], [2002.61, 45.72], [2002.7, 44.54], [2002.86, 43.69], [2003, 43.96], [2003.15, 44.97], [2003.33, 45.75], [2003.48, 45.45], [2003.64, 44.33], [2003.78, 43.58], [2003.91, 43.21], [2004.09, 43.18], [2004.22, 43.69], [2004.39, 44.17], [2004.49, 44.06], [2004.67, 43.16], [2004.85, 42.66], [2004.99, 42.71], [2005.21, 43.32], [2005.36, 43.74], [2005.48, 43.53], [2005.66, 42.94], [2005.82, 42.25]]

        // black observed line
        let blackLine = [[2001.96, 47.05], [2002.1, 47.42], [2002.21, 47.67], [2002.32, 47.53], [2002.39, 47.95], [2002.48, 48.04], [2002.6, 47.76], [2002.66, 46.89], [2002.72, 46.3], [2002.79, 46.14], [2002.95, 45.93], [2003.04, 45.4], [2003.13, 44.86], [2003.24, 44.7], [2003.33, 44.12], [2003.42, 43.26], [2003.48, 42.73], [2003.57, 42.89], [2003.66, 44.6], [2003.78, 44.44], [2003.91, 43.69], [2004.05, 43.37], [2004.2, 42.84], [2004.31, 43.42], [2004.4, 43.42], [2004.51, 43.24], [2004.56, 44.38], [2004.65, 44.41], [2004.76, 43.9], [2004.94, 43.83], [2005.06, 43.69], [2005.15, 44.33], [2005.22, 45.02], [2005.3, 43.26], [2005.34, 42.41], [2005.39, 41.72], [2005.48, 41.93], [2005.59, 41.24], [2005.63, 40.7], [2005.76, 40.7], [2005.82, 42.2]]


        let svg = d3.select("svg")

        let plot = { left: 174, right: 1888, top: 243, bottom: 712 }

        let x = d3.scaleLinear()
            .domain([1960, 2006])
            .range([plot.left, plot.right])

        let y = d3.scaleLinear()
            .domain([40, 55])
            .range([plot.bottom, plot.top])

        let line = d3.line()
            .x(d => x(d[0]))
            .y(d => y(d[1]))

        // black page with the blue strip on top
        svg.append("rect")
            .attr("x", 8)
            .attr("y", 7)
            .attr("width", 1920)
            .attr("height", 931)
            .style("fill", "black")

        svg.append("rect")
            .attr("x", 8)
            .attr("y", 7)
            .attr("width", 1920)
            .attr("height", 3)
            .style("fill", "#0046cc")

        // contour bands, warmest first, each one paints everything above its edge
        svg.append("rect")
            .attr("x", plot.left)
            .attr("y", plot.top)
            .attr("width", plot.right - plot.left)
            .attr("height", plot.bottom - plot.top)
            .style("fill", "#b4ff00")

        function addShape(points, color) {
            svg.append("path")
                .attr("d", line(points) + "Z")
                .style("fill", color)
        }

        function addBand(edge, color) {
            addShape(edge.concat([[2006, 55], [1960, 55]]), color)
        }

        addShape(orangePatch, "#ffaa00")
        addBand(yellowEdge, "#2bff00")
        addBand(greenEdge, "#00ff66")
        addBand(springEdge, "#00ffff")
        addBand(blueEdge, "#0066ff")

        bluePatches.forEach(p => addShape(p, "#0066ff"))
        indigoPatches.forEach(p => addShape(p, "#2200ff"))
        cyanPatches.forEach(p => addShape(p, "#00ffff"))
        springPatches.forEach(p => addShape(p, "#00ff66"))

        // axes: minor ticks without labels, major ticks with
        let blank = () => ""

        svg.append("g")
            .attr("class", "axis")
            .attr("transform", `translate(0,${plot.bottom})`)
            .call(d3.axisBottom(x).tickValues(yearTicks).tickSize(-5).tickFormat(blank))

        svg.append("g")
            .attr("class", "axis")
            .attr("transform", `translate(0,${plot.top})`)
            .call(d3.axisTop(x).tickValues(yearTicks).tickSize(-5).tickFormat(blank))

        svg.append("g")
            .attr("class", "axis")
            .attr("transform", `translate(0,${plot.bottom})`)
            .call(d3.axisBottom(x).tickValues(yearLabels).tickSize(-10).tickPadding(17).tickFormat(d3.format("d")))

        svg.append("g")
            .attr("class", "axis")
            .attr("transform", `translate(0,${plot.top})`)
            .call(d3.axisTop(x).tickValues(yearLabels).tickSize(-10).tickFormat(blank))

        svg.append("g")
            .attr("class", "axis")
            .attr("transform", `translate(${plot.left},0)`)
            .call(d3.axisLeft(y).tickValues(latTicks.filter(d => d % 5 != 0)).tickSize(-18).tickFormat(blank))

        svg.append("g")
            .attr("class", "axis")
            .attr("transform", `translate(${plot.left},0)`)
            .call(d3.axisLeft(y).tickValues([45, 50]).tickSize(-35).tickFormat(blank))

        svg.append("g")
            .attr("class", "axis")
            .attr("transform", `translate(${plot.right},0)`)
            .call(d3.axisRight(y).tickValues(latTicks.filter(d => d % 5 != 0)).tickSize(-16).tickFormat(blank))

        svg.append("g")
            .attr("class", "axis")
            .attr("transform", `translate(${plot.right},0)`)
            .call(d3.axisRight(y).tickValues([45, 50]).tickSize(-34).tickFormat(blank))

        let yLabels = svg.append("g")
            .attr("class", "axis")
            .attr("transform", `translate(${plot.left},0)`)
            .call(d3.axisLeft(y).tickValues(latLabels).tickSize(0).tickPadding(8).tickFormat(d3.format("d")))

        // the end labels sit inside the axis span
        yLabels.selectAll("text")
            .attr("dy", d => d == 55 ? "0.66em" : d == 40 ? "-0.1em" : "0.42em")

        // frame
        svg.append("rect")
            .attr("x", plot.left)
            .attr("y", plot.top)
            .attr("width", plot.right - plot.left)
            .attr("height", plot.bottom - plot.top)
            .style("fill", "none")
            .style("stroke", "#c8c8c8")
            .style("stroke-width", 2)

        // lines
        svg.append("path")
            .attr("d", d3.line().curve(d3.curveCatmullRom.alpha(0.5)).x(d => x(d[0])).y(d => y(d[1]))(redLine))
            .style("fill", "none")
            .style("stroke", "#ff0000")
            .style("stroke-width", 3.2)
            .style("stroke-linejoin", "round")

        svg.append("path")
            .attr("d", line(blackLine))
            .style("fill", "none")
            .style("stroke", "black")
            .style("stroke-width", 3.2)
            .style("stroke-linejoin", "round")

        // titles
        svg.append("text").text("SSH")
            .attr("x", 1029)
            .attr("y", 229)
            .attr("text-anchor", "middle")
            .attr("font-size", "33px")
            .style("letter-spacing", "3px")

        svg.append("text").text("Year")
            .attr("x", 1029)
            .attr("y", 778)
            .attr("text-anchor", "middle")
            .attr("font-size", "25px")
            .style("letter-spacing", "2.5px")

        svg.append("text").text("Latitude (\u00b0N)")
            .attr("transform", "translate(106,478) rotate(-90)")
            .attr("text-anchor", "middle")
            .attr("font-size", "25px")
            .style("letter-spacing", "2.5px")

        // colorbar
        let barX = d3.scaleLinear()
            .domain([-100, 0])
            .range([875, 1262])

        let gradient = svg.append("defs").append("linearGradient")
            .attr("id", "ramp")

        barValues.forEach(function (v, i) {
            gradient.append("stop")
                .attr("offset", (v + 100) + "%")
                .attr("stop-color", barColors[i])
        })

        svg.append("rect")
            .attr("x", barX(-100))
            .attr("y", 894)
            .attr("width", barX(0) - barX(-100))
            .attr("height", 11)
            .style("fill", "url(#ramp)")
            .style("stroke", "#c8c8c8")
            .style("stroke-width", 2)

        svg.append("g")
            .attr("class", "axis")
            .attr("transform", "translate(0,905)")
            .call(d3.axisBottom(barX).tickValues(d3.range(1, 12).map(i => -100 + i * 100 / 12)).tickSize(-2).tickFormat(blank))

        svg.append("g")
            .attr("class", "axis")
            .attr("transform", "translate(0,894)")
            .call(d3.axisTop(barX).tickValues(d3.range(1, 12).map(i => -100 + i * 100 / 12)).tickSize(-2).tickFormat(blank))

        svg.selectAll(".barlabel")
            .data(barLabels)
            .enter()
            .append("text")
            .attr("class", "barlabel")
            .text(d => d)
            .attr("x", (d, i) => barX(barLabelValues[i]))
            .attr("y", 931)
            .attr("text-anchor", "middle")
            .attr("font-size", "21px")
            .style("letter-spacing", "4px")

        svg.append("text").text("(cm)")
            .attr("x", 1067)
            .attr("y", 882)
            .attr("text-anchor", "middle")
            .attr("font-size", "32px")
            .style("letter-spacing", "5px")

    </script>
</body>

</html>
